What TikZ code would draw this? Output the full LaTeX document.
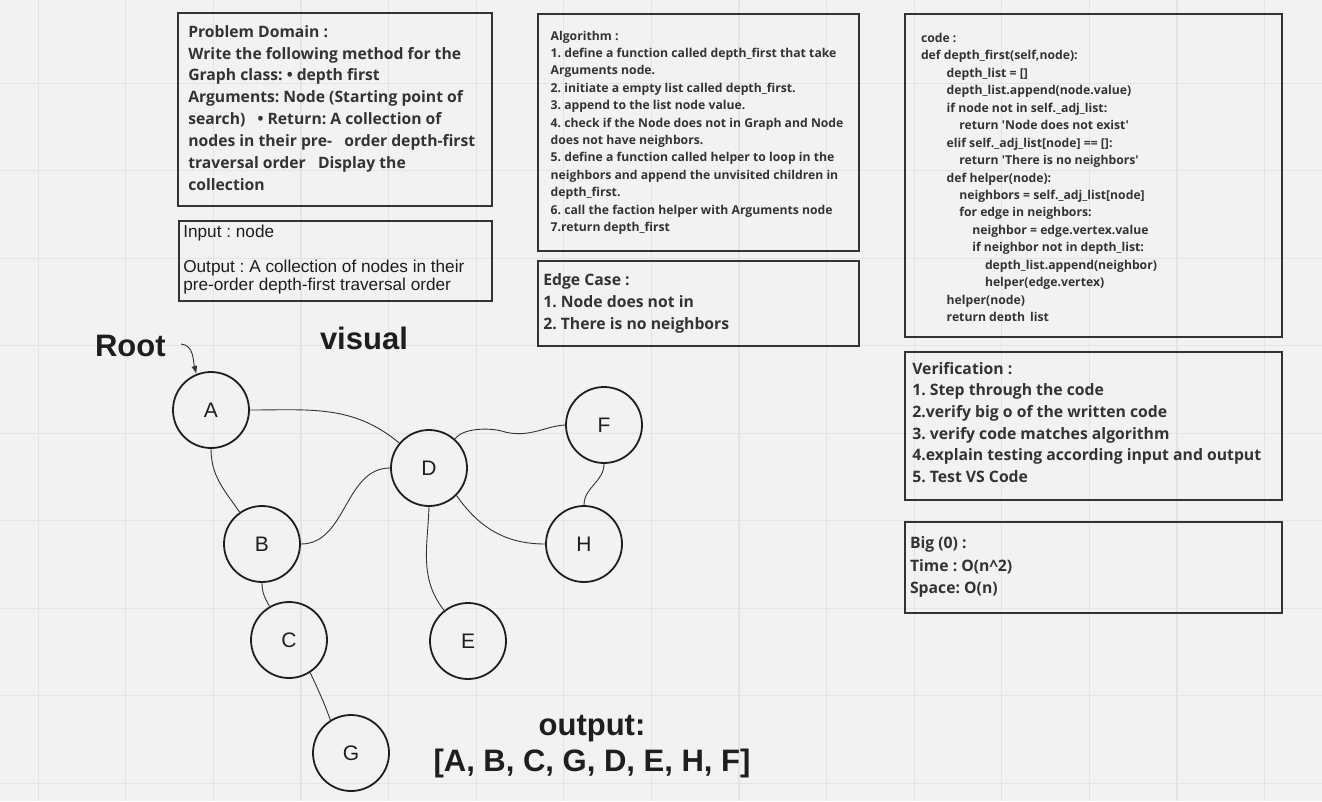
\documentclass[tikz,border=0pt]{standalone}
\usepackage{fontspec}
\setmainfont{Open Sans}
\newfontfamily\arial{Liberation Sans}
\usetikzlibrary{arrows.meta}
\definecolor{bg}{HTML}{F2F2F2}
\definecolor{gridc}{HTML}{E4E4E4}
\definecolor{ink}{HTML}{333333}
\definecolor{dark}{HTML}{1E1E1E}
\newcommand{\qs}{\textquotesingle}
\frenchspacing
\begin{document}
\begin{tikzpicture}[x=1pt,y=1pt,
  box/.style={draw=ink, line width=1.8pt},
  txt/.style={anchor=north west, inner sep=0pt, outer sep=0pt, align=left, text=ink},
  vert/.style={circle, draw=dark, line width=1.8pt, minimum size=76pt, inner sep=0pt, font=\arial\fontsize{21}{21}\selectfont, text=dark},
  edge/.style={draw=ink, line width=0.9pt},
  big/.style={font=\arial\bfseries\fontsize{31}{34}\selectfont, text=dark, inner sep=0pt, outer sep=0pt}
]
\fill[bg] (0,0) rectangle (1322,-801);
\useasboundingbox (0,0) rectangle (1322,-801);
\foreach \i in {0,...,14} \draw[gridc, line width=1.2pt] ({38.1+87.6*\i},0) -- ({38.1+87.6*\i},-801);
\foreach \j in {0,...,8} \draw[gridc, line width=1.2pt] (0,{-83.3-87.5*\j}) -- (1322,{-83.3-87.5*\j});

% boxes
\draw[box] (178.3,-13.3) rectangle (492.3,-206);
\draw[box] (179,-221) rectangle (492.3,-301);
\draw[box] (538.3,-14) rectangle (859,-251);
\draw[box] (538.3,-261) rectangle (859,-345.7);
\draw[box] (905,-14) rectangle (1282.3,-337.3);
\draw[box] (905,-351.7) rectangle (1282.3,-500);
\draw[box] (905,-521.7) rectangle (1282.3,-612.7);

% texts
\node[txt, font=\bfseries\fontsize{15.7}{21.9}\selectfont] (pd) at (188.3,-25.2) {Problem Domain :\\
Write the following method for the\\
Graph class: • depth first\\
Arguments: Node (Starting point of\\
search)\ \ \ • Return: A collection of\\
nodes in their pre-\ \ \ order depth-first\\
traversal order\ \ \ Display the\\
collection};

\node[txt, font=\arial\fontsize{17.2}{17.6}\selectfont, text=dark] (io) at (183.3,-225) {Input : node\\
\mbox{}\\
Output : A collection of nodes in their\\
pre-order depth-first traversal order};

\node[txt, font=\bfseries\fontsize{12.2}{17.4}\selectfont] (alg) at (550.7,-30.8) {Algorithm :\\
1. define a function called depth\_first that take\\
Arguments node.\\
2. initiate a empty list called depth\_first.\\
3. append to the list node value.\\
4. check if the Node does not in Graph and Node\\
does not have neighbors.\\
5. define a function called helper to loop in the\\
neighbors and append the unvisited children in\\
depth\_first.\\
6. call the faction helper with Arguments node\\
7.return depth\_first};

\node[txt, font=\bfseries\fontsize{15.75}{22}\selectfont] (ec) at (543.3,-273.5) {Edge Case :\\
1. Node does not in\\
2. There is no neighbors};

\begin{scope}
\clip (905,-14) rectangle (1282.3,-320.5);
\node[txt, font=\bfseries\fontsize{12.2}{17.47}\selectfont] (code) at (921,-33) {code :\\
def depth\_first(self,node):\\
\hspace*{25.7pt}depth\_list = []\\
\hspace*{25.7pt}depth\_list.append(node.value)\\
\hspace*{25.7pt}if node not in self.\_adj\_list:\\
\hspace*{38.3pt}return \qs Node does not exist\qs\\
\hspace*{25.7pt}elif self.\_adj\_list[node] == []:\\
\hspace*{38.3pt}return \qs There is no neighbors\qs\\
\hspace*{25.7pt}def helper(node):\\
\hspace*{38.3pt}neighbors = self.\_adj\_list[node]\\
\hspace*{38.3pt}for edge in neighbors:\\
\hspace*{51.3pt}neighbor = edge.vertex.value\\
\hspace*{51.3pt}if neighbor not in depth\_list:\\
\hspace*{64pt}depth\_list.append(neighbor)\\
\hspace*{64pt}helper(edge.vertex)\\
\hspace*{25.7pt}helper(node)\\
\hspace*{25.7pt}return depth\_list};
\end{scope}

\node[txt, font=\bfseries\fontsize{15.75}{21.7}\selectfont] (ver) at (912.3,-362) {Verification :\\
1. Step through the code\\
2.verify big o of the written code\\
3. verify code matches algorithm\\
4.explain testing according input and output\\
5. Test VS Code};

\node[txt, font=\bfseries\fontsize{15.75}{22.5}\selectfont] (bigo) at (910,-537) {Big (0) :\\
Time : O(n\textasciicircum 2)\\
Space: O(n)};

% titles
\node[big, anchor=base west] (root) at (95,-356) {Root};
\node[big, anchor=base west] (visual) at (320,-349.5) {visual};
\node[big, anchor=base] (outlbl) at (592,-735) {output:};
\node[big, anchor=base] (outlist) at (592,-771) {[A, B, C, G, D, E, H, F]};

% graph
\node[vert] (A) at (211,-410) {A};
\node[vert] (B) at (262,-544) {B};
\node[vert] (C) at (289,-640) {C};
\node[vert] (D) at (429,-468) {D};
\node[vert] (E) at (468,-641) {E};
\node[vert] (F) at (604,-425) {F};
\node[vert] (G) at (351,-753) {G};
\node[vert] (H) at (584,-544) {H};

\coordinate (rootarrow) at (181,-344);
\draw[edge, -{Latex[length=8pt,width=6pt]}] (rootarrow) to[out=-5,in=105] (A.112);

\draw[edge] (A.east) to[out=0,in=140] (D.140);
\draw[edge] (A.south) to[out=-90,in=125] (B.125);
\draw[edge] (B.east) to[out=0,in=180] (D.west);
\draw[edge] (B.south) to[out=-90,in=120] (C.120);
\draw[edge] (C.-57) to[out=-65,in=110] (G.122);
\draw[edge] (D.south) to[out=-92,in=128] (E.128);
\draw[edge] (D.48) .. controls (462,-428) and (490,-427) .. (505,-432) .. controls (530,-438) and (545,-426) .. (F.west);
\draw[edge] (D.-45) to[out=-55,in=180] (H.west);
\draw[edge] (F.south) to[out=-90,in=90] (H.north);
\end{tikzpicture}
\end{document}
